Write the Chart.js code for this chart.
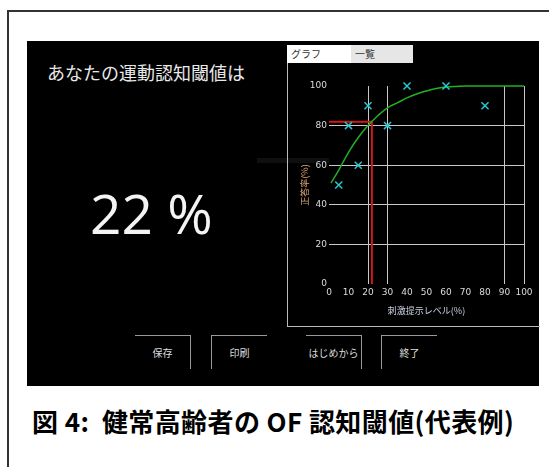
<!DOCTYPE html>
<html>
<head>
<meta charset="utf-8">
<script src="https://cdn.jsdelivr.net/npm/chart.js@4/dist/chart.umd.min.js"></script>
<style>
  body { margin: 0; width: 549px; height: 467px; background: #fff; position: relative; overflow: hidden; font-family: "Noto Sans CJK JP", sans-serif; }
  .abs { position: absolute; }
  #frame { left: 7px; top: 10px; width: 600px; height: 500px; border-top: 2px solid #333; border-left: 2px solid #333; }
  #panel { left: 27px; top: 41px; width: 512px; height: 345px; background: #000; }
  #question { left: 47px; top: 60px; color: #e8e8e8; font-size: 18px; line-height: 24px; }
  #result { left: 90px; top: 180px; color: #f4f4f4; font-family: "Open Sans", sans-serif; font-size: 55px; line-height: 66px; white-space: pre; }
  #smudge { left: 257px; top: 158px; width: 72px; height: 5px; background: #0f0f0f; }
  #box { left: 287px; top: 45px; width: 252px; height: 281px; border-left: 1px solid #bbb; border-bottom: 1px solid #bbb; }
  .tab { top: 45px; height: 18px; font-size: 10px; line-height: 18px; color: #333; padding-left: 4px; box-sizing: border-box; }
  #tab1 { left: 287px; width: 64px; background: #fff; }
  #tab2 { left: 351px; width: 62px; background: #e6e6e6; }
  .btn { top: 335px; width: 56px; height: 34px; border-top: 1px solid #999; color: #ddd; font-size: 10px; line-height: 34px; text-align: center; box-sizing: border-box; }
  .r { border-right: 1px solid #999; }
  .l { border-left: 1px solid #999; }
  #chartWrap { left: 288px; top: 64px; width: 251px; height: 262px; }
  #caption { left: 32px; top: 405px; font-size: 26px; font-weight: 700; letter-spacing: 0.4px; color: #000; white-space: pre; line-height: 32px; }
</style>
</head>
<body>
<div id="frame" class="abs"></div>
<div id="panel" class="abs"></div>
<div id="question" class="abs">あなたの運動認知閾値は</div>
<div id="result" class="abs">22 %</div>
<div id="smudge" class="abs"></div>
<div id="box" class="abs"></div>
<div id="tab1" class="abs tab">グラフ</div>
<div id="tab2" class="abs tab">一覧</div>
<div class="abs btn r" style="left:135px">保存</div>
<div class="abs btn l" style="left:211px">印刷</div>
<div class="abs btn r" style="left:306px">はじめから</div>
<div class="abs btn l" style="left:381px">終了</div>
<div id="chartWrap" class="abs"><canvas id="chart" width="251" height="262"></canvas></div>
<div id="caption" class="abs">図 4:  健常高齢者の OF 認知閾値(代表例)</div>
<script>
// measured responses (stimulus level %, correct rate %)
var levels = [5, 10, 15, 20, 30, 40, 60, 80];
var correct = [50, 80, 60, 90, 80, 100, 100, 90];

// fitted curve
var fitLevels = [1, 5, 10, 15, 20, 25, 30, 35, 40, 45, 50, 55, 60, 70, 80, 90, 100];
var fitCorrect = [51, 57.5, 66.5, 74, 80, 85, 89, 91.5, 94, 96, 97.5, 98.7, 99.5, 100, 100, 100, 100];

// threshold
var threshold = 22;
var thresholdRate = 82;

var xTicksShown = [20, 30, 90, 100];
var yTicksShown = [20, 40, 60, 80];

function pairs(xs, ys) {
  var out = [];
  for (var i = 0; i < xs.length; i++) out.push({x: xs[i], y: ys[i]});
  return out;
}

window.onload = function () {
  var ctx = document.getElementById('chart').getContext('2d');

  new Chart(ctx, {
    type: 'scatter',
    data: {
      datasets: [
        {
          label: 'threshold',
          data: [{x: 0, y: thresholdRate}, {x: threshold, y: thresholdRate}, {x: threshold, y: 0}],
          showLine: true,
          borderColor: '#d01818',
          borderWidth: 2,
          pointRadius: 0,
          clip: false,
          order: 3
        },
        {
          label: 'fit',
          data: pairs(fitLevels, fitCorrect),
          showLine: true,
          borderColor: '#22b022',
          borderWidth: 1.5,
          tension: 0.4,
          pointRadius: 0,
          clip: false,
          order: 2
        },
        {
          label: 'data',
          data: pairs(levels, correct),
          pointStyle: 'crossRot',
          pointRadius: 5,
          borderColor: '#28c8d0',
          borderWidth: 1.5,
          clip: false,
          order: 1
        }
      ]
    },
    options: {
      responsive: false,
      animation: false,
      layout: { padding: { top: 22, right: 15, left: 0, bottom: 0 } },
      plugins: { legend: { display: false }, tooltip: { enabled: false } },
      scales: {
        x: {
          type: 'linear',
          min: 0, max: 100,
          ticks: { stepSize: 10, autoSkip: false, color: '#dcdcdc', font: { family: 'DejaVu Sans', size: 9 }, padding: 3, maxRotation: 0 },
          grid: {
            drawTicks: false,
            color: function (c) { return xTicksShown.indexOf(c.tick.value) >= 0 ? '#c8c8c8' : 'rgba(0,0,0,0)'; }
          },
          border: { display: false },
          title: { display: true, text: '刺激提示レベル(%)', color: '#c8d0e0', font: { family: 'Noto Sans CJK JP', size: 9 }, padding: { top: 0, bottom: 10 } },
          afterFit: function (s) { s.height = 42; }
        },
        y: {
          type: 'linear',
          min: 0, max: 100,
          ticks: { stepSize: 20, color: '#dcdcdc', font: { family: 'DejaVu Sans', size: 9 }, padding: 2 },
          grid: {
            drawTicks: false,
            color: function (c) { return yTicksShown.indexOf(c.tick.value) >= 0 ? '#c8c8c8' : 'rgba(0,0,0,0)'; }
          },
          border: { display: false },
          title: { display: true, text: '正答率(%)', color: '#d8a070', font: { family: 'Noto Sans CJK JP', size: 9 }, padding: { top: 11, bottom: 0 } },
          afterFit: function (s) { s.width = 41; }
        }
      }
    }
  });
};
</script>
</body>
</html>
